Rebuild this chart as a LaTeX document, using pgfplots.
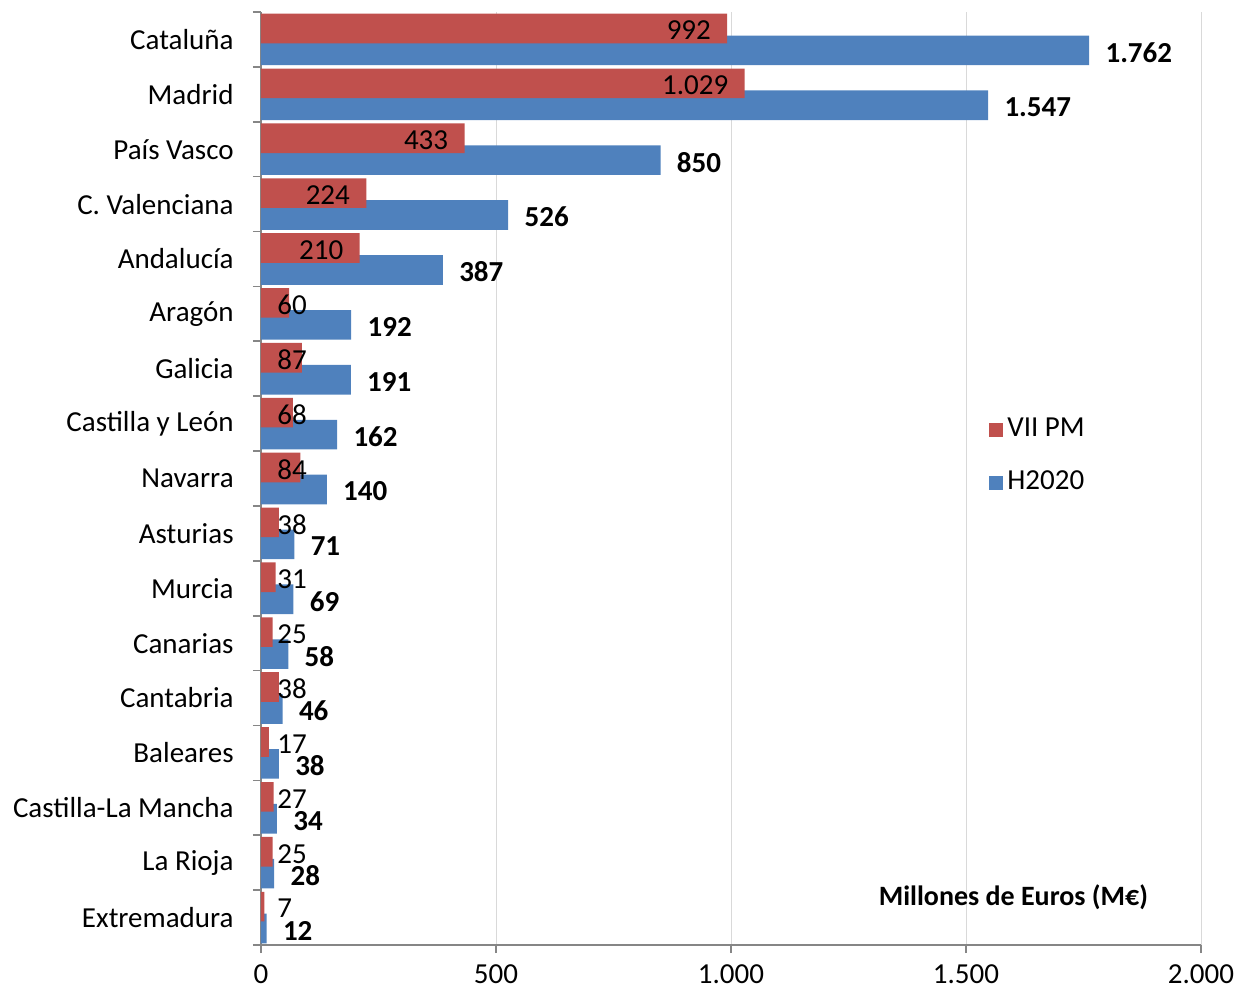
\documentclass[border=0pt]{standalone}
\usepackage{pgfplots}
\pgfplotsset{compat=1.18}
\usepackage{fontspec}
\setmainfont{Carlito}
\definecolor{vii}{HTML}{C0504D}
\definecolor{hor}{HTML}{4F81BD}
\definecolor{axisgrey}{HTML}{868686}
\definecolor{gridgrey}{HTML}{D9D9D9}
\pgfplotsset{/pgf/number format/1000 sep={.}, /pgf/number format/assume math mode=true}

\begin{document}
\fontsize{14.5}{17}\selectfont
\begin{tikzpicture}
\path[use as bounding box] (-130.5pt,-23pt) rectangle (486.5pt,472.5pt);
\begin{axis}[
  at={(0,0)}, anchor=south west,
  scale only axis, width=470pt, height=466.5pt,
  xbar, bar width=0.54,
  xmin=0, xmax=2000, ymin=-0.5, ymax=16.5,
  axis x line*=bottom, axis y line*=left,
  axis line style={axisgrey, line width=0.8pt},
  tick style={axisgrey, line width=0.8pt},
  tick align=outside, major tick length=4pt,
  xtick={0,500,1000,1500,2000},
  xmajorgrids, grid style={gridgrey, line width=0.5pt},
  xticklabel style={inner sep=0pt, yshift=-5.5pt},
  ytick={-0.5,0.5,...,16.5}, yticklabels={},
  extra y ticks={0,...,16},
  extra y tick labels={Extremadura, La Rioja, Castilla-La Mancha, Baleares, Cantabria, Canarias, Murcia, Asturias, Navarra, Castilla y León, Galicia, Aragón, Andalucía, C. Valenciana, País Vasco, Madrid, Cataluña},
  extra y tick style={major tick length=0pt, yticklabel style={anchor=east, inner sep=0pt, xshift=-13.5pt}},
  reverse legend,
  legend style={draw=none, fill=none, at={(rel axis cs:0.768,0.524)}, anchor=west, row sep=11pt, legend cell align=left},
  legend image code/.code={\fill[#1] (0pt,-3.5pt) rectangle (7pt,3.5pt);},
]
% H2020
\addplot[fill=hor, draw=none, bar shift=-0.2, point meta=x, nodes near coords,
  nodes near coords style={anchor=west, inner sep=0pt, xshift=8pt, yshift=-1pt, font=\bfseries, black}]
  coordinates {(12,0) (28,1) (34,2) (38,3) (46,4) (58,5) (69,6) (71,7) (140,8) (162,9) (191,10) (192,11) (387,12) (526,13) (850,14) (1547,15) (1762,16)};
\addlegendentry{H2020}
% VII PM
\addplot[fill=vii, draw=none, bar shift=0.2]
  coordinates {(7,0) (25,1) (27,2) (17,3) (38,4) (25,5) (31,6) (38,7) (84,8) (68,9) (87,10) (60,11) (210,12) (224,13) (433,14) (1029,15) (992,16)};
\addlegendentry{VII PM}
% etiquetas VII PM (dentro de la barra)
\addplot[forget plot, draw=none, fill=none, bar shift=0.2, point meta=x, nodes near coords,
  nodes near coords style={anchor=east, inner sep=0pt, xshift=-8pt, yshift=-1pt, black}]
  coordinates {(210,12) (224,13) (433,14) (1029,15) (992,16)};
% etiquetas VII PM (barras cortas)
\addplot[forget plot, draw=none, fill=none, bar shift=0.2, point meta=explicit, nodes near coords,
  nodes near coords style={anchor=west, inner sep=0pt, xshift=8pt, yshift=-1pt, black}]
  coordinates {(0,0) [7] (0,1) [25] (0,2) [27] (0,3) [17] (0,4) [38] (0,5) [25] (0,6) [31] (0,7) [38] (0,8) [84] (0,9) [68] (0,10) [87] (0,11) [60]};
\node[anchor=east, font=\bfseries\fontsize{14}{17}\selectfont] at (rel axis cs:0.9543,0.051) {Millones de Euros (M€)};
\end{axis}
\end{tikzpicture}
\end{document}
